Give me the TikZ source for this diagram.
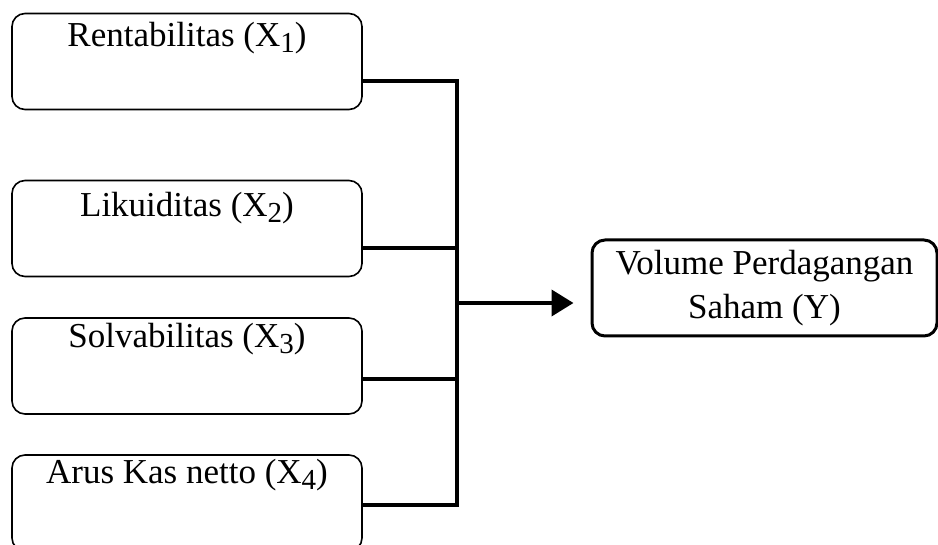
\documentclass[tikz,border=0pt]{standalone}
\usepackage{fontspec}
\setmainfont{Liberation Serif}
\usetikzlibrary{arrows.meta}
\newcommand{\subidx}[1]{\raisebox{-6pt}{\fontsize{29}{29}\selectfont #1}}
\tikzset{
  inbox/.style={draw, line width=1.6pt, rounded corners=13pt, minimum width=350pt, minimum height=96pt, inner sep=0pt},
  outbox/.style={draw, line width=3pt, rounded corners=13pt, minimum width=345pt, minimum height=96pt, inner sep=0pt, align=center, font=\fontsize{35}{44}\selectfont},
  lbl/.style={font=\fontsize{35}{40}\selectfont, inner sep=0pt, anchor=base},
  conn/.style={line width=4pt},
}
\begin{document}
\begin{tikzpicture}[x=1pt,y=-1pt]
\useasboundingbox (0,0) rectangle (938,545);
% input boxes
\node[inbox] (b1) at (187,61.5) {};
\node[inbox] (b2) at (187,228.5) {};
\node[inbox] (b3) at (187,366) {};
\node[inbox] (b4) at (187,503) {};
\node[lbl] (t1) at (187,47) {Rentabilitas (X\subidx{1})};
\node[lbl] (t2) at (187,217) {Likuiditas (X\subidx{2})};
\node[lbl] (t3) at (187,348) {Solvabilitas (X\subidx{3})};
\node[lbl] (t4) at (187,483) {Arus Kas netto (X\subidx{4})};
% output box
\node[outbox] (y) at (764.5,288) {Volume Perdagangan\\Saham (Y)};
% junctions
\coordinate (j1) at (457,81);
\coordinate (j2) at (457,248);
\coordinate (j3) at (457,379);
\coordinate (j4) at (457,505);
\coordinate (jm) at (457,303);
\draw[conn] (b1.east |- j1) -- (j1);
\draw[conn] (b2.east |- j2) -- (j2);
\draw[conn] (b3.east |- j3) -- (j3);
\draw[conn] (b4.east |- j4) -- (j4);
\draw[conn, line cap=rect] (j1) -- (j4);
\draw[conn, -{Triangle[length=22pt,width=26pt]}, shorten >=17pt] (jm) -- (y.west |- jm);
\end{tikzpicture}
\end{document}
